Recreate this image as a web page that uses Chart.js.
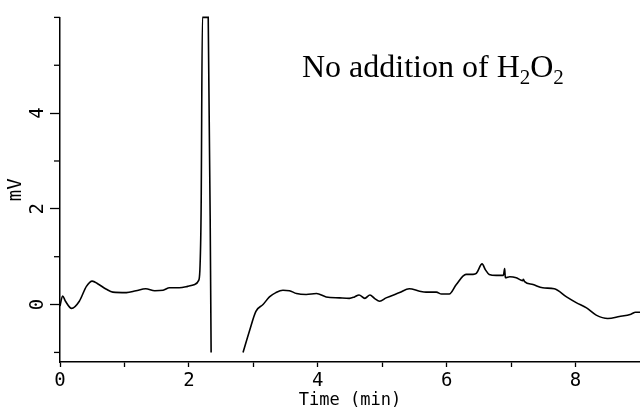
<!DOCTYPE html>
<html>
<head>
<meta charset="utf-8">
<script src="https://cdn.jsdelivr.net/npm/chart.js@4/dist/chart.umd.min.js"></script>
<style>
  html, body { margin: 0; padding: 0; background: #ffffff; }
  #wrap { width: 640px; height: 411px; position: relative; }
</style>
</head>
<body>
<div id="wrap"><canvas id="c"></canvas></div>
<script>
// Retention time (min)
const timeMin = [0, 0.04, 0.085, 0.18, 0.30, 0.41, 0.50, 0.59, 0.72, 0.82, 1.03, 1.18, 1.33, 1.47, 1.60, 1.70, 1.85, 1.98, 2.09, 2.15, 2.17, 2.19, 2.21, 2.30, 2.345,
  2.6,
  2.84, 2.94, 3.04, 3.15, 3.25, 3.35, 3.46, 3.56, 3.67, 3.82, 3.98, 4.13, 4.34, 4.49, 4.57, 4.64, 4.73, 4.81, 4.88, 4.96, 5.06, 5.27, 5.42, 5.58, 5.68, 5.84, 5.92, 6.04, 6.15, 6.30, 6.41, 6.46, 6.55, 6.60, 6.66, 6.77, 6.88, 6.90, 6.91, 6.98, 7.08, 7.18, 7.19, 7.21, 7.34, 7.49, 7.67, 7.86, 8.01, 8.17, 8.32, 8.50, 8.68, 8.86, 8.93, 9.0];
// Detector signal (mV); null = off-scale gap
const signalMv = [-0.03, 0.18, 0.07, -0.08, 0.07, 0.38, 0.49, 0.43, 0.32, 0.26, 0.25, 0.29, 0.33, 0.29, 0.30, 0.35, 0.35, 0.38, 0.42, 0.50, 0.70, 2.0, 6.0, 6.0, -1.0,
  null,
  -1.0, -0.55, -0.14, 0.0, 0.16, 0.25, 0.30, 0.29, 0.23, 0.21, 0.23, 0.16, 0.14, 0.13, 0.16, 0.20, 0.13, 0.20, 0.13, 0.07, 0.14, 0.25, 0.33, 0.28, 0.26, 0.26, 0.22, 0.22, 0.42, 0.63, 0.63, 0.65, 0.85, 0.73, 0.63, 0.61, 0.61, 0.75, 0.56, 0.58, 0.56, 0.50, 0.53, 0.48, 0.42, 0.35, 0.33, 0.16, 0.04, -0.07, -0.22, -0.29, -0.25, -0.20, -0.16, -0.16];

const xTicks = [0, 1, 2, 3, 4, 5, 6, 7, 8];
const xLabelled = [0, 2, 4, 6, 8];
const yTicks = [-1, 0, 1, 2, 3, 4, 5, 6];
const yLabelled = [0, 2, 4];

const annotationParts = [
  { text: 'No addition of H', sub: false },
  { text: '2', sub: true },
  { text: 'O', sub: false },
  { text: '2', sub: true }
];

const points = timeMin.map((t, i) => ({ x: t, y: signalMv[i] }));

const minorTickPlugin = {
  id: 'minorTicks',
  afterDraw(chart) {
    const ctx = chart.ctx;
    const ys = chart.scales.y;
    ctx.save();
    ctx.strokeStyle = '#000';
    ctx.lineWidth = 1.3;
    yTicks.forEach(v => {
      if (yLabelled.includes(v)) return;
      const py = ys.getPixelForValue(v);
      ctx.beginPath();
      ctx.moveTo(ys.right - 6, py);
      ctx.lineTo(ys.right, py);
      ctx.stroke();
    });
    // annotation
    let x = chart.chartArea.left + 242;
    const base = chart.chartArea.top + 60;
    ctx.fillStyle = '#000';
    ctx.textBaseline = 'alphabetic';
    ctx.textAlign = 'left';
    annotationParts.forEach(p => {
      ctx.font = p.sub ? '21px "Liberation Serif", "Times New Roman", serif' : '32px "Liberation Serif", "Times New Roman", serif';
      ctx.fillText(p.text, x, p.sub ? base + 7 : base);
      x += ctx.measureText(p.text).width;
    });
    ctx.restore();
  }
};

const tickFont = { family: '"DejaVu Sans Mono", "Liberation Mono", monospace', size: 19 };

new Chart(document.getElementById('c'), {
  type: 'line',
  data: {
    datasets: [{
      data: points,
      borderColor: '#000',
      borderWidth: 1.6,
      pointRadius: 0,
      fill: false,
      spanGaps: false,
      cubicInterpolationMode: 'monotone',
      clip: 3
    }]
  },
  options: {
    responsive: true,
    maintainAspectRatio: false,
    animation: false,
    devicePixelRatio: 1,
    layout: { padding: { top: 15, right: 0, left: 0, bottom: 0 } },
    plugins: { legend: { display: false }, tooltip: { enabled: false } },
    scales: {
      x: {
        type: 'linear',
        min: 0,
        max: 9,
        afterBuildTicks(scale) { scale.ticks = xTicks.map(v => ({ value: v })); },
        afterFit(scale) { scale.height = 49; },
        ticks: {
          color: '#000',
          font: tickFont,
          padding: 3,
          maxRotation: 0,
          autoSkip: false,
          callback: v => xLabelled.includes(v) ? String(v) : ''
        },
        grid: { drawOnChartArea: false, drawTicks: true, tickLength: 5, tickColor: '#000', tickWidth: 1.3 },
        border: { display: true, color: '#000', width: 1.5 },
        title: {
          display: true,
          text: 'Time (min)',
          color: '#000',
          font: { family: '"DejaVu Sans Mono", "Liberation Mono", monospace', size: 17 },
          padding: { top: 0, bottom: 0 }
        }
      },
      y: {
        type: 'linear',
        min: -1.2,
        max: 6,
        afterBuildTicks(scale) { scale.ticks = yTicks.map(v => ({ value: v })); },
        afterFit(scale) { scale.width = 60; },
        ticks: {
          color: '#000',
          font: tickFont,
          padding: 6,
          minRotation: 90,
          maxRotation: 90,
          crossAlign: 'center',
          autoSkip: false,
          callback: v => yLabelled.includes(v) ? String(v) : ''
        },
        grid: {
          drawOnChartArea: false, drawTicks: true, tickLength: 10, tickWidth: 1.3,
          tickColor: ctx => (ctx.tick && yLabelled.includes(ctx.tick.value)) ? '#000' : 'rgba(0,0,0,0)'
        },
        border: { display: true, color: '#000', width: 1.5 },
        title: {
          display: true,
          text: 'mV',
          color: '#000',
          font: { family: '"DejaVu Sans Mono", "Liberation Mono", monospace', size: 19 },
          padding: { top: 5, bottom: 0 }
        }
      }
    }
  },
  plugins: [minorTickPlugin]
});
</script>
</body>
</html>
